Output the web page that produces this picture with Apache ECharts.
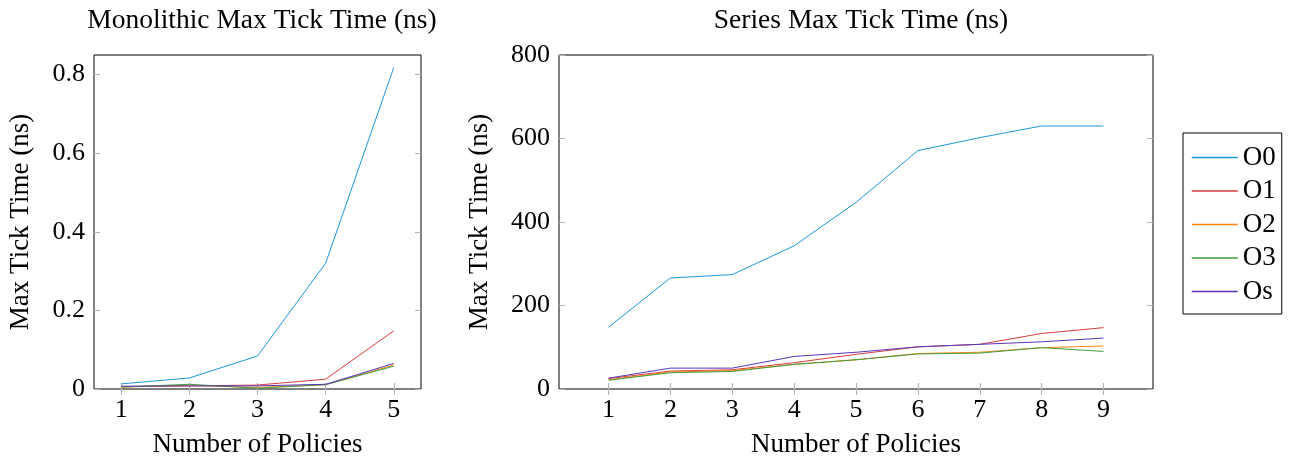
<!DOCTYPE html>
<html>
<head>
<meta charset="utf-8">
<script src="https://cdn.jsdelivr.net/npm/echarts@6/dist/echarts.min.js"></script>
<style>
  html, body { margin: 0; padding: 0; background: #fff; }
  #chart { width: 1297px; height: 460px; }
</style>
</head>
<body>
<div id="chart"></div>
<script>
// data
const seriesNames = ['O0', 'O1', 'O2', 'O3', 'Os'];
const colors = ['#1f98da', '#d83c3c', '#ff8410', '#3f9c3f', '#5a36bf'];

const monoPolicies = [1, 2, 3, 4, 5];
const monoO0 = [0.013, 0.028, 0.084, 0.32, 0.818];
const monoO1 = [0.006, 0.008, 0.010, 0.025, 0.148];
const monoO2 = [0.005, 0.009, 0.004, 0.011, 0.061];
const monoO3 = [0.005, 0.012, 0.002, 0.011, 0.058];
const monoOs = [0.007, 0.008, 0.008, 0.012, 0.065];

const serPolicies = [1, 2, 3, 4, 5, 6, 7, 8, 9];
const serO0 = [148, 266, 274, 343, 447, 571, 602, 630, 630];
const serO1 = [25, 43, 46, 63, 83, 101, 107, 133, 147];
const serO2 = [22, 41, 44, 59, 70, 85, 88, 99, 103];
const serO3 = [21, 39, 42, 59, 70, 84, 86, 99, 90];
const serOs = [26, 50, 50, 78, 88, 101, 107, 113, 122];

const monoYTicks = [0, 0.2, 0.4, 0.6, 0.8];
const serYTicks = [0, 200, 400, 600, 800];

const font = 'Liberation Serif';

const myChart = echarts.init(document.getElementById('chart'), null, { renderer: 'canvas' });

function pairs(xs, ys) {
    return xs.map((x, i) => [x, ys[i]]);
}

// main axis + mirrored axis (ticks only) for the frame look
function xAxes(gridIndex, min, max, ticks) {
    const base = {
        type: 'value', gridIndex: gridIndex, min: min, max: max,
        axisLine: { show: false },
        splitLine: { show: false },
        axisTick: { show: true, inside: true, length: 6, customValues: ticks,
            lineStyle: { color: '#b4b4b4', width: 1.2 } }
    };
    return [
        Object.assign({}, base, {
            position: 'bottom',
            name: 'Number of Policies', nameLocation: 'middle', nameGap: 42,
            nameTextStyle: { fontFamily: font, fontSize: 27, color: '#000' },
            axisLabel: { customValues: ticks, margin: 8, fontFamily: font, fontSize: 26, color: '#000' }
        }),
        Object.assign({}, base, { position: 'top', axisLabel: { show: false } })
    ];
}

function yAxes(gridIndex, max, ticks, nameGap) {
    const base = {
        type: 'value', gridIndex: gridIndex, min: 0, max: max,
        axisLine: { show: false },
        splitLine: { show: false },
        axisTick: { show: true, inside: true, length: 6, customValues: ticks,
            lineStyle: { color: '#b4b4b4', width: 1.2 } }
    };
    return [
        Object.assign({}, base, {
            position: 'left',
            name: 'Max Tick Time (ns)', nameLocation: 'middle', nameGap: nameGap,
            nameTextStyle: { fontFamily: font, fontSize: 27, color: '#000' },
            axisLabel: { customValues: ticks, margin: 9, fontFamily: font, fontSize: 26, color: '#000' }
        }),
        Object.assign({}, base, { position: 'right', axisLabel: { show: false } })
    ];
}

const monoData = [monoO0, monoO1, monoO2, monoO3, monoOs];
const serData = [serO0, serO1, serO2, serO3, serOs];

let series = [];
seriesNames.forEach((name, i) => {
    series.push({
        name: name, type: 'line', xAxisIndex: 0, yAxisIndex: 0,
        symbol: 'none', animation: false,
        lineStyle: { width: 1, color: colors[i] }, itemStyle: { color: colors[i] },
        data: pairs(monoPolicies, monoData[i])
    });
});
seriesNames.forEach((name, i) => {
    series.push({
        name: name, type: 'line', xAxisIndex: 2, yAxisIndex: 2,
        symbol: 'none', animation: false,
        lineStyle: { width: 1, color: colors[i] }, itemStyle: { color: colors[i] },
        data: pairs(serPolicies, serData[i])
    });
});

const option = {
    backgroundColor: '#fff',
    animation: false,
    title: [{
        text: 'Monolithic Max Tick Time (ns)',
        left: 257, top: 2, textAlign: 'center',
        textStyle: { fontFamily: font, fontSize: 27.5, fontWeight: 'normal', color: '#000' }
    }, {
        text: 'Series Max Tick Time (ns)',
        left: 856, top: 2, textAlign: 'center',
        textStyle: { fontFamily: font, fontSize: 27.5, fontWeight: 'normal', color: '#000' }
    }],
    legend: {
        orient: 'vertical',
        left: 1183, top: 133,
        padding: [11, 6, 9, 8],
        itemWidth: 46, itemHeight: 20, itemGap: 6.5,
        itemStyle: { opacity: 0 },
        lineStyle: { width: 1.5 },
        borderColor: '#000', borderWidth: 1,
        data: seriesNames,
        textStyle: { fontFamily: font, fontSize: 27, color: '#000' }
    },
    grid: [
        { left: 94, top: 55, width: 327, height: 334, outerBoundsMode: 'none',
          show: true, borderColor: '#000', borderWidth: 1, backgroundColor: 'transparent' },
        { left: 559, top: 55, width: 594, height: 334, outerBoundsMode: 'none',
          show: true, borderColor: '#000', borderWidth: 1, backgroundColor: 'transparent' }
    ],
    xAxis: xAxes(0, 0.6, 5.4, monoPolicies).concat(xAxes(1, 0.2, 9.8, serPolicies)),
    yAxis: yAxes(0, 0.85, monoYTicks, 60).concat(yAxes(1, 800, serYTicks, 66)),
    series: series
};

myChart.setOption(option);
window.addEventListener('resize', () => {
    if (myChart) {
        myChart.resize();
    }
});
</script>
</body>
</html>
